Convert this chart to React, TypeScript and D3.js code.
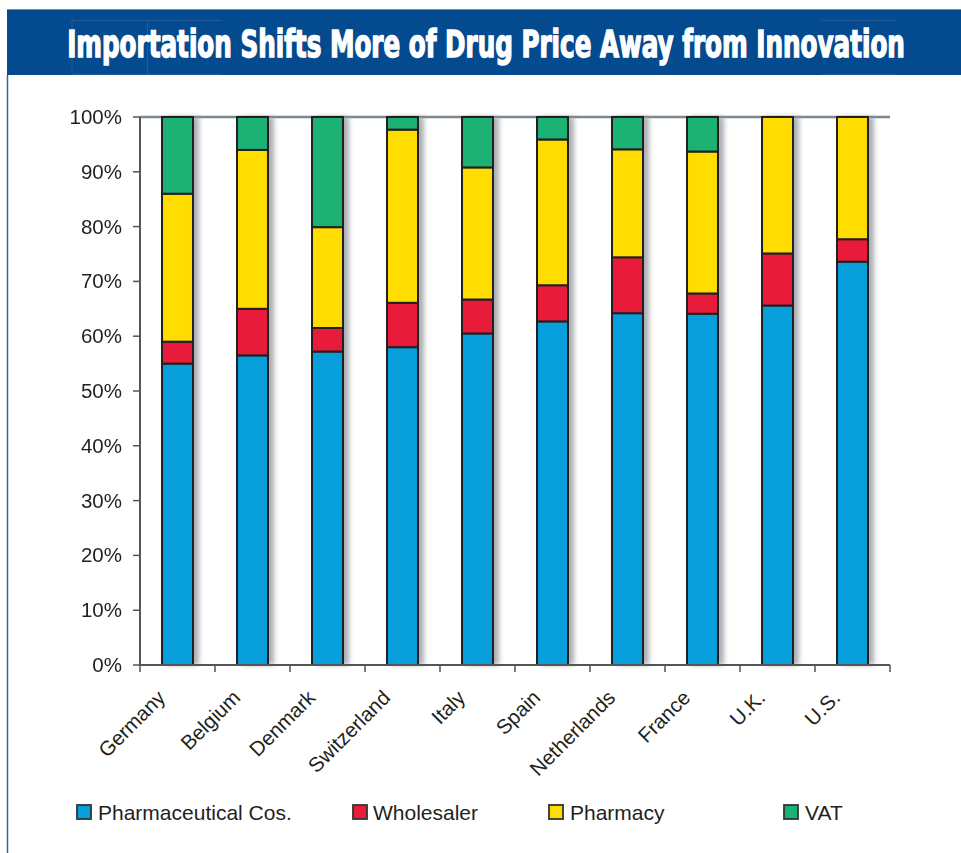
import React, { useLayoutEffect, useRef, useState } from "react";
import * as d3 from "d3";

const categories = ["Germany", "Belgium", "Denmark", "Switzerland", "Italy", "Spain", "Netherlands", "France", "U.K.", "U.S."];
const pharmaceuticalCos = [55, 56.5, 57.2, 58, 60.5, 62.7, 64.2, 64.1, 65.6, 73.6];
const wholesaler = [4, 8.5, 4.3, 8.1, 6.2, 6.6, 10.2, 3.7, 9.5, 4.1];
const pharmacy = [27, 29, 18.4, 31.6, 24.1, 26.6, 19.7, 25.9, 24.9, 22.3];
const vat = [14, 6, 20.1, 2.3, 9.2, 4.1, 5.9, 6.3, 0, 0];
const seriesNames = ["Pharmaceutical Cos.", "Wholesaler", "Pharmacy", "VAT"];
const seriesKeys = ["pharma", "wholesaler", "pharmacy", "vat"];
const seriesColors = ["#079edc", "#e81c3a", "#ffdd00", "#1cb273"];
const yTicks = [0, 10, 20, 30, 40, 50, 60, 70, 80, 90, 100];
const titleText = "Importation Shifts More of Drug Price Away from Innovation";

const W = 961, H = 853;
const left = 140, right = 890, top = 117, bottom = 665;
const FONT = "'Liberation Sans', Arial, Helvetica, sans-serif";
const TITLE_CX = 486, TITLE_W = 838;

export default function App() {
  const titleRef = useRef<SVGTextElement | null>(null);
  const [sx, setSx] = useState(1);
  useLayoutEffect(() => {
    if (titleRef.current) {
      const w = titleRef.current.getComputedTextLength();
      if (w > 0) setSx(TITLE_W / w);
    }
  }, []);

  const rows = categories.map((c, i) => ({
    cat: c,
    pharma: pharmaceuticalCos[i],
    wholesaler: wholesaler[i],
    pharmacy: pharmacy[i],
    vat: vat[i],
  }));
  const stacked = d3.stack<any>().keys(seriesKeys)(rows);
  const x = d3.scaleBand<string>().domain(categories).range([left, right]).paddingInner(0.587).paddingOuter(0.2935);
  const y = d3.scaleLinear().domain([0, 100]).range([bottom, top]);
  const step = x.step();
  const bw = x.bandwidth();

  const legendSwatchX = [77, 353, 549, 784];
  const legendTextX = [98, 373, 570, 805];

  return (
    <div style={{ position: "absolute", left: 0, top: 0 }}>
      <svg width={W} height={H} style={{ display: "block", background: "#fff" }}>
        <defs>
          <filter id="shadow" x="-50%" y="-10%" width="200%" height="120%">
            <feGaussianBlur stdDeviation="2.5" />
          </filter>
        </defs>
        {/* title bar */}
        <rect x={7} y={9} width={W - 7} height={66} fill="#034a8f" />
        <line x1={7} x2={W} y1={9.5} y2={9.5} stroke="#6d8db8" strokeWidth={1} />
        <line x1={7.5} x2={7.5} y1={75} y2={H} stroke="#2f62a8" strokeWidth={1.5} />
        <g stroke="#2f5f9e" strokeWidth={0.8}>
          <line x1={72} x2={72} y1={20} y2={75} />
          <line x1={147.5} x2={147.5} y1={20} y2={75} />
          <line x1={72} x2={222} y1={20.5} y2={20.5} />
          <line x1={822} x2={896} y1={20.5} y2={20.5} />
          <line x1={72} x2={222} y1={74.5} y2={74.5} />
          <line x1={822} x2={896} y1={74.5} y2={74.5} />
        </g>
        <g transform={`translate(${TITLE_CX},0) scale(${sx},1)`}>
          <text
            ref={titleRef}
            x={0}
            y={57.5}
            textAnchor="middle"
            fill="#fff"
            stroke="#fff"
            strokeWidth={1.4}
            fontFamily="'Liberation Sans Narrow', 'DejaVu Sans Condensed', 'Liberation Sans', sans-serif"
            fontWeight="bold"
            fontSize={37}
          >
            {titleText}
          </text>
        </g>

        {/* top 100% line */}
        <line x1={left} x2={right} y1={y(100)} y2={y(100)} stroke="#7d8890" strokeWidth={2.5} />

        {/* shadows */}
        <g filter="url(#shadow)">
          {rows.map((r) => (
            <rect key={r.cat} x={(x(r.cat) as number) + 4} y={y(100)} width={bw + 2} height={bottom - y(100)} fill="#8e939b" opacity={0.75} />
          ))}
        </g>

        {/* bars */}
        {stacked.map((s, si) => (
          <g key={s.key} fill={seriesColors[si]} stroke="#231f20" strokeWidth={2}>
            {s.map((d, i) =>
              d[1] - d[0] > 0 ? (
                <rect key={i} x={x(categories[i])} y={y(d[1])} width={bw} height={y(d[0]) - y(d[1])} />
              ) : null
            )}
          </g>
        ))}

        {/* axes */}
        <line x1={left} x2={left} y1={top} y2={bottom} stroke="#555" strokeWidth={2} />
        <line x1={left} x2={right} y1={bottom} y2={bottom} stroke="#555" strokeWidth={2} />
        {yTicks.map((t) => (
          <g key={t}>
            <line x1={left - 7} x2={left} y1={y(t)} y2={y(t)} stroke="#555" strokeWidth={1.5} />
            <text x={122} y={y(t) + 7} textAnchor="end" fontFamily={FONT} fontSize={20.5} fill="#231f20">
              {t}%
            </text>
          </g>
        ))}
        {d3.range(categories.length + 1).map((i) => (
          <line key={i} x1={left + i * step} x2={left + i * step} y1={bottom} y2={bottom + 7} stroke="#555" strokeWidth={1.5} />
        ))}
        {categories.map((c) => {
          const cx = (x(c) as number) + bw / 2;
          return (
            <text
              key={c}
              transform={`translate(${cx - 11},${699}) rotate(-45)`}
              textAnchor="end"
              fontFamily={FONT}
              fontSize={20.5}
              fill="#231f20"
            >
              {c}
            </text>
          );
        })}

        {/* legend */}
        {seriesNames.map((n, i) => (
          <g key={n}>
            <rect x={legendSwatchX[i]} y={805} width={14} height={14} fill={seriesColors[i]} stroke="#333" strokeWidth={1.8} />
            <text x={legendTextX[i]} y={819.5} fontFamily={FONT} fontSize={21} fill="#231f20">
              {n}
            </text>
          </g>
        ))}
      </svg>
    </div>
  );
}
